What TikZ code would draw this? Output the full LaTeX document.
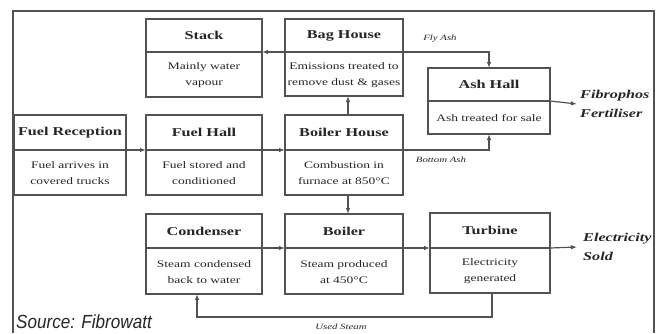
\documentclass[tikz,border=0pt]{standalone}
\usepackage{fontspec}
\setmainfont{Liberation Serif}
\newfontfamily\bxfont[FakeStretch=1.35]{Liberation Serif}
\newfontfamily\srcfont[FakeStretch=0.9]{Liberation Sans}
\usetikzlibrary{arrows.meta}
\definecolor{linec}{gray}{0.32}
\definecolor{txtc}{gray}{0.15}
\tikzset{
  boxs/.style={draw=linec, line width=1.2pt, inner sep=0pt, outer sep=0pt},
  boxline/.style={draw=linec, line width=1.2pt},
  ttl/.style={font=\bxfont\bfseries\fontsize{12}{14}\selectfont, text=txtc, inner sep=0pt},
  dsc/.style={font=\bxfont\fontsize{10}{16}\selectfont, text=txtc, align=center, inner sep=0pt},
  conn/.style={draw=linec, line width=1.2pt, -{Latex[length=6pt,width=4.5pt]}},
  lbl/.style={font=\bxfont\itshape\fontsize{8}{9}\selectfont, text=txtc, inner sep=0pt},
  outl/.style={font=\bxfont\bfseries\itshape\fontsize{12}{19}\selectfont, align=left, anchor=west, text=txtc, inner sep=0pt},
  frame/.style={draw=linec, line width=1.3pt},
}
\newcommand\procbox[8]{%
  \node[boxs, minimum width={(#4-#2)*1pt}, minimum height={(#5-#3)*1pt}] (#1) at ({(#2+#4)/2},{(#3+#5)/2}) {};
  \coordinate (#1-dl) at (#2,#6);
  \coordinate (#1-dr) at (#4,#6);
  \draw[boxline] (#1-dl) -- (#1-dr);
  \node[ttl] (#1-t) at ({(#2+#4)/2},{(#3+#6)/2}) {#7};
  \node[dsc] (#1-d) at ({(#2+#4)/2},{(#6+#5)/2+1}) {#8};
}
\begin{document}
\begin{tikzpicture}[x=1pt,y=-1pt]
\useasboundingbox (0,0) rectangle (658,333);
\fill[white] (0,0) rectangle (658,333);
% outer frame
\draw[frame] (13,333) -- (13,11) -- (654,11) -- (654,333);
% boxes
\procbox{stack}{146}{19}{262}{97}{52}{Stack}{Mainly water\\vapour}
\procbox{bag}{285}{19}{403}{96}{52}{Bag House}{Emissions treated to\\remove dust \& gases}
\procbox{recep}{14}{115}{126}{195}{150}{Fuel Reception}{Fuel arrives in\\covered trucks}
\procbox{fhall}{146}{115}{262}{195}{150}{Fuel Hall}{Fuel stored and\\conditioned}
\procbox{bhouse}{285}{115}{403}{195}{150}{Boiler House}{Combustion in\\furnace at 850°C}
\procbox{ash}{428}{68}{550}{134}{101}{Ash Hall}{Ash treated for sale}
\procbox{cond}{146}{214}{262}{294}{248}{Condenser}{Steam condensed\\back to water}
\procbox{boiler}{285}{214}{403}{294}{248}{Boiler}{Steam produced\\at 450°C}
\procbox{turb}{430}{213}{550}{293}{248}{Turbine}{Electricity\\generated}
% output labels
\node[outl] (fert) at (580,104) {Fibrophos\\Fertiliser};
\node[outl] (elec) at (583,247) {Electricity\\Sold};
% connectors
\draw[conn] (recep-dr) -- (fhall-dl);
\draw[conn] (fhall-dr) -- (bhouse-dl);
\draw[conn] (bag-dl) -- (stack-dr);
\draw[conn] ([xshift=4pt]bhouse.north) -- ([xshift=4pt]bag.south);
\draw[conn] ([xshift=4pt]bhouse.south) -- ([xshift=4pt]boiler.north);
\draw[conn] (cond-dr) -- (boiler-dl);
\draw[conn] (boiler-dr) -- (turb-dl);
\draw[conn] (bag-dr) -| (ash.north);
\draw[conn] (bhouse-dr) -| (ash.south);
\draw[conn] (ash-dr) -- ([xshift=-3pt]fert.west);
\draw[conn] (turb-dr) -- ([xshift=-6pt]elec.west);
\coordinate (us) at (492,317);
\draw[conn] ([xshift=2pt]turb.south) -- (us) -| ([xshift=-7pt]cond.south);
% connector labels
\node[lbl] (fly) at (440,39) {Fly Ash};
\node[lbl] (bot) at (441,160) {Bottom Ash};
\node[lbl] (used) at (341,327) {Used Steam};
% source
\node[font=\srcfont\itshape\fontsize{19}{22}\selectfont, text=black!85, anchor=base west, inner sep=0pt] (src) at (16,328) {Source: Fibrowatt};
\end{tikzpicture}
\end{document}
